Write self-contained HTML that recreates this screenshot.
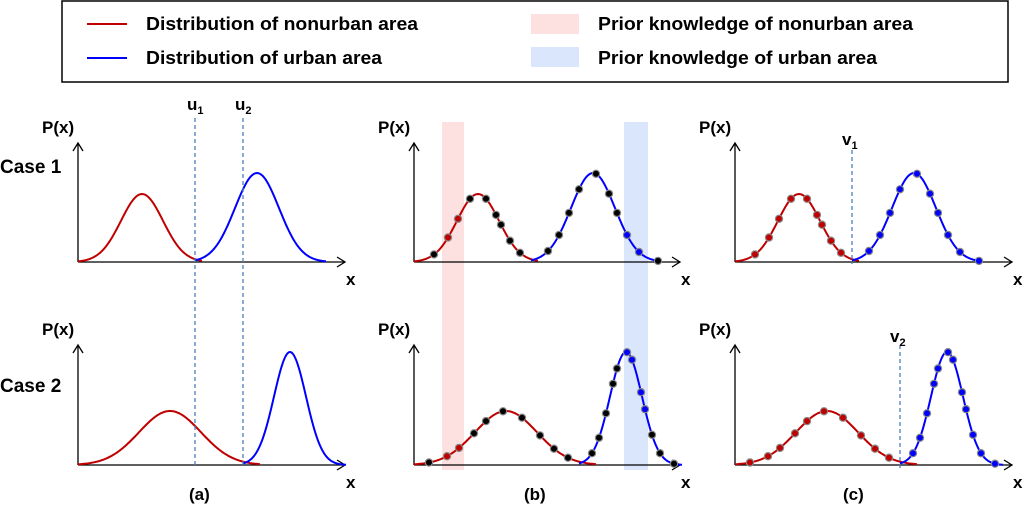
<!DOCTYPE html>
<html><head><meta charset="utf-8"><style>
body{margin:0;background:#fff;}
svg text{font-family:"Liberation Sans",sans-serif;font-weight:bold;fill:#000;}
</style></head><body>
<svg id="fig" width="1024" height="513" viewBox="0 0 1024 513" xmlns="http://www.w3.org/2000/svg">
<g>
<rect x="62" y="1" width="946" height="81" fill="#fff" stroke="#000" stroke-width="1.5"/>
<line x1="87" y1="24" x2="127" y2="24" stroke="#c00000" stroke-width="2"/>
<text x="146" y="30" font-size="18" textLength="272" lengthAdjust="spacingAndGlyphs">Distribution of nonurban area</text>
<line x1="87" y1="58" x2="127" y2="58" stroke="#0000ff" stroke-width="2"/>
<text x="146" y="64" font-size="18" textLength="236" lengthAdjust="spacingAndGlyphs">Distribution of urban area</text>
<rect x="531" y="14" width="48" height="20" fill="#fde0e0"/>
<text x="598" y="30" font-size="18" textLength="315" lengthAdjust="spacingAndGlyphs">Prior knowledge of nonurban area</text>
<rect x="531" y="47" width="48" height="20" fill="#dae6fb"/>
<text x="598" y="64" font-size="18" textLength="279" lengthAdjust="spacingAndGlyphs">Prior knowledge of urban area</text>
</g>
<text x="0" y="173" font-size="19">Case 1</text>
<text x="0" y="392" font-size="19">Case 2</text>
<text x="189" y="500" font-size="17">(a)</text>
<text x="524" y="500" font-size="17">(b)</text>
<text x="843" y="500" font-size="17">(c)</text>
<g id="bands"></g>
<g id="plots"></g>
</svg>
<script>
const panelAxisX = [78, 414, 735];
const panelAxisEnd = [345, 680, 1012];
const rowBase = [262, 465];
const rowTop = [143, 345];
const redMean = [64, 92];
const redSd = [21, 31];
const redPeak = [68, 54];
const blueMean = [179, 212];
const blueSd = [22, 16];
const bluePeak = [89, 113];
const redRange = [[0, 124], [0, 182]];
const blueRange = [[117, 248], [165, 268]];
const redSamples1 = [20, 34, 44, 56, 72, 82, 87, 96, 106];
const blueSamples1 = [134, 145, 155, 165, 182, 195, 203, 213, 225, 244];
const redSamples2 = [15, 33, 45, 60, 72, 89, 108, 126, 140, 154];
const blueSamples2 = [178, 185, 192, 199, 203, 213, 218, 227, 231, 238, 246, 260];
const uLines = [195, 243];
const vLines = [852, 900];
const bandRed = [442, 464];
const bandBlue = [624, 648];

const NS = "http://www.w3.org/2000/svg";
const svg = document.getElementById('plots');
const bands = document.getElementById('bands');
function mk(tag, attrs, parent) {
  const e = document.createElementNS(NS, tag);
  for (const k in attrs) e.setAttribute(k, attrs[k]);
  parent.appendChild(e);
  return e;
}
function gy(row, rel, m, s, p) { return rowBase[row] - p * Math.exp(-0.5 * Math.pow((rel - m) / s, 2)); }

let b1 = mk('rect', {x: bandRed[0], y: 122, width: bandRed[1] - bandRed[0], height: 348, fill: '#fde0e0'}, bands);


let b2 = mk('rect', {x: bandBlue[0], y: 122, width: bandBlue[1] - bandBlue[0], height: 348, fill: '#dae6fb'}, bands);



const redS = [redSamples1, redSamples2];
const blueS = [blueSamples1, blueSamples2];
const pn = ['a', 'b', 'c'];
for (let p = 0; p < 3; p++) {
  for (let r = 0; r < 2; r++) {
    const ax = panelAxisX[p], base = rowBase[r];
    const g = mk('g', {}, svg);
    
    
    const curves = [[redMean, redSd, redPeak, redRange, '#c00000', 'nonurban'], [blueMean, blueSd, bluePeak, blueRange, '#0000ff', 'urban']];
    let ya = mk('path', {d: `M${ax},${base} L${ax},${rowTop[r]} M${ax-5},${rowTop[r]+8} L${ax},${rowTop[r]} L${ax+5},${rowTop[r]+8}`, stroke: '#000', 'stroke-width': 1.3, fill: 'none'}, g);
    
    
    let xa = mk('path', {d: `M${ax},${base} L${panelAxisEnd[p]},${base} M${panelAxisEnd[p]-8},${base-5} L${panelAxisEnd[p]},${base} L${panelAxisEnd[p]-8},${base+5}`, stroke: '#000', 'stroke-width': 1.3, fill: 'none'}, g);
    
    
    let yt = mk('text', {x: ax - 36, y: rowTop[r] - 10, 'font-size': 17}, g);
    yt.textContent = 'P(x)';
    
    
    let xt = mk('text', {x: panelAxisEnd[p] + 1, y: base + 23, 'font-size': 17}, g);
    xt.textContent = 'x';
    
    
    for (const c of curves) {
      let d = '';
      for (let rel = c[3][r][0]; rel <= c[3][r][1]; rel += 1) {
        d += (d ? 'L' : 'M') + (ax + rel) + ',' + gy(r, rel, c[0][r], c[1][r], c[2][r]).toFixed(1);
      }
      let path = mk('path', {d: d, stroke: c[4], 'stroke-width': 2, fill: 'none'}, g);
      
      
    }
    if (p > 0) {
      const sets = [[redS[r], redMean, redSd, redPeak, '#c00000', 'nonurban', bandRed], [blueS[r], blueMean, blueSd, bluePeak, '#0000ff', 'urban', bandBlue]];
      for (const s of sets) {
        for (const rel of s[0]) {
          const cx = ax + rel;
          let fill = s[4];
          if (p === 1) fill = (cx >= s[6][0] && cx <= s[6][1]) ? s[4] : '#000';
          let pt = mk('circle', {cx: cx, cy: gy(r, rel, s[1][r], s[2][r], s[3][r]).toFixed(1), r: 3.6, fill: fill, stroke: '#888', 'stroke-width': 1.2}, g);
          
          
        }
      }
    }
  }
}
for (let i = 0; i < 2; i++) {
  let l = mk('line', {x1: uLines[i], y1: 118, x2: uLines[i], y2: 466, stroke: '#4a7fc1', 'stroke-width': 1.3, 'stroke-dasharray': '4,3'}, svg);
  
  
  let t = mk('text', {x: uLines[i] - 8, y: 110, 'font-size': 17}, svg);
  t.innerHTML = 'u<tspan font-size="11" dy="4">' + (i + 1) + '</tspan>';
  
  
}
const vTop = [150, 345], vBot = [264, 470], vLab = [145, 342];
for (let i = 0; i < 2; i++) {
  let l = mk('line', {x1: vLines[i], y1: vTop[i], x2: vLines[i], y2: vBot[i], stroke: '#4a7fc1', 'stroke-width': 1.3, 'stroke-dasharray': '4,3'}, svg);
  
  
  let t = mk('text', {x: vLines[i] - 10, y: vLab[i], 'font-size': 17}, svg);
  t.innerHTML = 'v<tspan font-size="11" dy="4">' + (i + 1) + '</tspan>';
  
  
}
</script>
</body></html>
